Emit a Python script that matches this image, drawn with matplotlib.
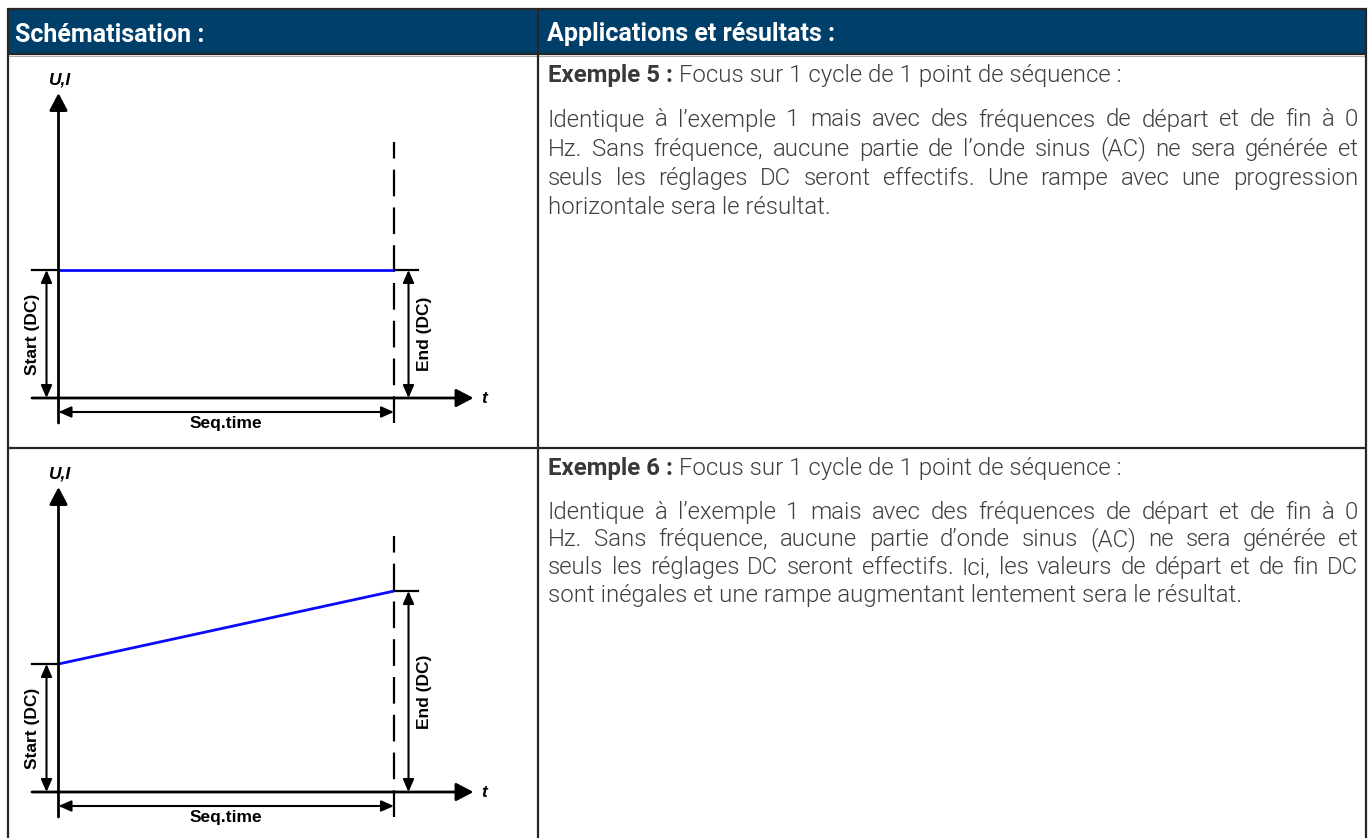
import matplotlib.pyplot as plt
from matplotlib.patches import Rectangle
from matplotlib.lines import Line2D

W, H = 1368, 838

# valeurs des deux schémas (unités relatives)
seq_time = [1.0, 1.0]
start_dc = [1.0, 1.0]
end_dc = [1.0, 1.57]

headers = ["Schématisation :", "Applications et résultats :"]
titles = ["Exemple 5 :", "Exemple 6 :"]
subtitles = ["Focus sur 1 cycle de 1 point de séquence :",
             "Focus sur 1 cycle de 1 point de séquence :"]
paragraphs = [
    ["Identique à l’exemple 1 mais avec des fréquences de départ et de fin à 0",
     "Hz. Sans fréquence, aucune partie de l’onde sinus (AC) ne sera générée et",
     "seuls les réglages DC seront effectifs. Une rampe avec une progression",
     "horizontale sera le résultat."],
    ["Identique à l’exemple 1 mais avec des fréquences de départ et de fin à 0",
     "Hz. Sans fréquence, aucune partie d’onde sinus (AC) ne sera générée et",
     "seuls les réglages DC seront effectifs. Ici, les valeurs de départ et de fin DC",
     "sont inégales et une rampe augmentant lentement sera le résultat."],
]

HEAD_BLUE = "#013f6b"
BORDER = "#262626"
TXT = "#3f3f3f"
BLUE = "#0a0aff"
DIAG_FONT = "Liberation Sans"
BODY_FONT = "Roboto"

fig = plt.figure(figsize=(W / 100, H / 100), dpi=100)
fig.patch.set_facecolor("white")


def fx(x):
    return x / W


def fy(y):
    return 1 - y / H


def hline(y, x0, x1, color=BORDER, lw=1.6):
    fig.add_artist(Line2D([fx(x0), fx(x1)], [fy(y), fy(y)], transform=fig.transFigure,
                          color=color, lw=lw, solid_capstyle="butt"))


def vline(x, y0, y1, color=BORDER, lw=1.6):
    fig.add_artist(Line2D([fx(x), fx(x)], [fy(y0), fy(y1)], transform=fig.transFigure,
                          color=color, lw=lw, solid_capstyle="butt"))


# tableau : bandeau d'en-tête + traits
fig.add_artist(Rectangle((fx(8), fy(54)), fx(1366) - fx(8), fy(9) - fy(54),
                         transform=fig.transFigure, facecolor=HEAD_BLUE, edgecolor="none"))
hline(9, 7, 1367)
hline(54, 7, 1367)
hline(56, 9, 1365, color="#b0b0b0", lw=0.8)
hline(448, 7, 1367)
vline(8, 9, 838)
vline(538, 9, 838)
vline(1366, 9, 838)

fig.text(fx(15), fy(41.5), headers[0], color="white", fontsize=18, fontweight="bold",
         family=BODY_FONT, va="baseline")
fig.text(fx(547), fy(41.5), headers[1], color="white", fontsize=18, fontweight="bold",
         family=BODY_FONT, va="baseline")

# schémas
SX, SY = 335.5, 128.0   # pixels par unité (temps, tension)


def make_axes(cell, origin):
    x0, y0, x1, y1 = cell
    ox, oy = origin
    ax = fig.add_axes([fx(x0), fy(y1), (x1 - x0) / W, (y1 - y0) / H])
    ax.set_xlim((x0 - ox) / SX, (x1 - ox) / SX)
    ax.set_ylim((oy - y1) / SY, (oy - y0) / SY)
    ax.axis("off")
    return ax


def draw_diagram(ax, T, s, e):
    k = lambda p: p / SX
    v = lambda p: p / SY
    axis_arrow = dict(arrowstyle="-|>,head_length=10.5,head_width=5.5", mutation_scale=1,
                      color="black", lw=2.0, shrinkA=0, shrinkB=0)
    dim_arrow = dict(arrowstyle="<|-|>,head_length=7.5,head_width=3.3", mutation_scale=1,
                     color="black", lw=1.5, shrinkA=0, shrinkB=0)
    # axes U,I et t
    ax.annotate("", xy=(0, v(305)), xytext=(0, -v(25)), arrowprops=axis_arrow)
    ax.annotate("", xy=(k(415), 0), xytext=(-k(26.5), 0), arrowprops=axis_arrow)
    # fin de séquence en pointillés
    ax.plot([T, T], [-v(25), v(256)], color="black", lw=1.6, ls=(0, (12, 5)))
    # repères de niveau
    ax.plot([-k(26.5), 0], [s, s], color="black", lw=1.6)
    ax.plot([T, T + k(24)], [e, e], color="black", lw=1.6)
    # rampe
    ax.plot([0, T], [s, e], color=BLUE, lw=2.0, solid_capstyle="butt")
    # cotes
    ax.annotate("", xy=(-k(12), s), xytext=(-k(12), 0), arrowprops=dim_arrow)
    ax.annotate("", xy=(T + k(14.5), e), xytext=(T + k(14.5), 0), arrowprops=dim_arrow)
    ax.annotate("", xy=(T, -v(14)), xytext=(0, -v(14)), arrowprops=dim_arrow)
    lab = dict(family=DIAG_FONT, fontweight="bold", fontsize=12.5, color="black",
               ha="center", va="center")
    ax.text(k(1.5), v(318), "U,I", style="italic", **lab)
    ax.text(k(425.5), 0, "t", style="italic", **lab)
    ax.text(-k(26), s / 2, "Start (DC)", rotation=90, **lab)
    ax.text(T + k(30.5), e / 2, "End (DC)", rotation=90, **lab)
    ax.text(T / 2, -v(25.5), "Seq.time", **lab)


cells = [(9, 57, 537, 447), (9, 449, 537, 838)]
origins = [(58.5, 398), (58.5, 792)]
for i in range(2):
    ax = make_axes(cells[i], origins[i])
    draw_diagram(ax, seq_time[i], start_dc[i], end_dc[i])

# texte de droite, justifié
renderer = fig.canvas.get_renderer()
body = dict(family=BODY_FONT, fontweight=300, fontsize=17.3, color=TXT, va="baseline")
bold = dict(family=BODY_FONT, fontweight="bold", fontsize=17.3, color="#383838", va="baseline")


def width_of(s, **kw):
    t = fig.text(0, 0, s, **kw)
    w = t.get_window_extent(renderer).width
    t.remove()
    return w


space_w = width_of("a a", **body) - width_of("aa", **body)
LEFT, RIGHT = 548, 1358
title_base = [82, 475]
first_base = [126.5, 518.5]
line_h = [29.1, 27.8]

for i in range(2):
    yb = title_base[i]
    fig.text(fx(LEFT), fy(yb), titles[i], **bold)
    bw = width_of(titles[i], **bold)
    fig.text(fx(LEFT + bw + space_w), fy(yb), subtitles[i], **body)
    lines = paragraphs[i]
    for j, line in enumerate(lines):
        y = first_base[i] + j * line_h[i]
        if j == len(lines) - 1:
            fig.text(fx(LEFT), fy(y), line, **body)
            continue
        words = line.split(" ")
        ws = [width_of(w, **body) for w in words]
        gap = (RIGHT - LEFT - sum(ws)) / (len(words) - 1)
        x = LEFT
        for w, wd in zip(words, ws):
            fig.text(fx(x), fy(y), w, **body)
            x += wd + gap

fig.savefig("out.png", dpi=100)
